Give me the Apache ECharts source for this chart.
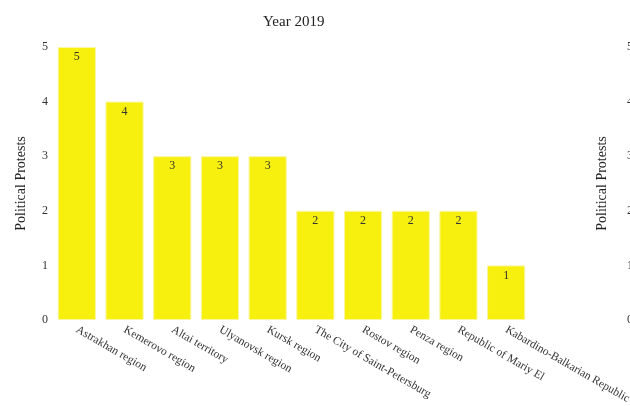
<!DOCTYPE html>
<html>
	<head>
		<meta charset="utf-8">
		<title>Year 2019</title>
		<script src="https://cdn.jsdelivr.net/npm/echarts@6/dist/echarts.min.js"></script>
	</head>
	<body style="margin:0">
		<div id="main" style="width: 630px;height:406px;"></div>
		<script type="text/javascript">
			// data
			var regions = ['Astrakhan region', 'Kemerovo region', 'Altai territory', 'Ulyanovsk region', 'Kursk region',
				'The City of Saint-Petersburg', 'Rostov region', 'Penza region', 'Republic of Mariy El', 'Kabardino-Balkarian Republic'];
			var protests = [5, 4, 3, 3, 3, 2, 2, 2, 2, 1];
			var yTicks = [0, 1, 2, 3, 4, 5];

			var font = 'Liberation Serif, Times New Roman, serif';
			var myChart = echarts.init(document.getElementById('main'));

			var yAxisBase = function(pos) {
				return {
					type: 'value',
					position: pos,
					min: yTicks[0],
					max: yTicks[yTicks.length - 1],
					interval: 1,
					name: 'Political Protests',
					nameLocation: 'middle',
					nameRotate: 90,
					nameTextStyle: { fontFamily: font, fontSize: 14, color: '#222' },
					axisLine: { show: false },
					axisTick: { show: false },
					splitLine: { show: false },
					axisLabel: { fontFamily: font, fontSize: 12, color: '#333', margin: 5 }
				};
			};

			var leftAxis = yAxisBase('left');
			leftAxis.nameGap = 25;
			var rightAxis = yAxisBase('right');
			rightAxis.offset = 92;
			rightAxis.nameGap = -27;

			var option = {
				title: {
					text: 'Year 2019',
					left: 258,
					top: 10,
					textStyle: { fontFamily: font, fontSize: 15, fontWeight: 'normal', color: '#222' }
				},
				grid: { left: 53, right: 100, top: 47, bottom: 86, outerBoundsMode: 'none', containLabel: false },
				xAxis: {
					type: 'category',
					data: regions,
					axisLine: { show: false },
					axisTick: { show: false },
					axisLabel: {
						rotate: -30,
						interval: 0,
						margin: 9,
						fontFamily: font,
						fontSize: 11.5,
						color: '#333'
					}
				},
				yAxis: [leftAxis, rightAxis],
				series: [{
					type: 'bar',
					data: protests,
					barCategoryGap: '20%',
					itemStyle: {
						color: '#f7ef0e',
						borderColor: '#fbf6a0',
						borderWidth: 1
					},
					label: {
						show: true,
						position: 'insideTop',
						distance: 4,
						fontFamily: font,
						fontSize: 12,
						color: '#333'
					}
				}]
			};

			myChart.setOption(option);
		</script>
	</body>
</html>
